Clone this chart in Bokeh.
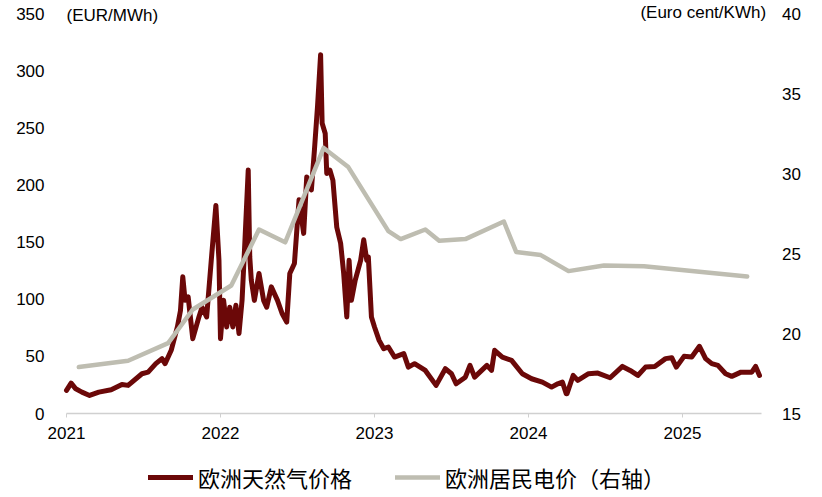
from bokeh.plotting import figure
from bokeh.models import (Range1d, LinearAxis, FixedTicker, Legend, LegendItem,
                          Label, CustomJSTickFormatter)
from bokeh.embed import file_html
from bokeh.resources import INLINE

# ---------------- data ----------------
# European natural gas price (EUR/MWh), decimal-year time axis
gas_t = [2021.00, 2021.03, 2021.06, 2021.10, 2021.15, 2021.21, 2021.29, 2021.36, 2021.40,
         2021.49, 2021.53, 2021.58, 2021.62, 2021.64, 2021.68, 2021.72, 2021.74, 2021.755,
         2021.77, 2021.79, 2021.82, 2021.86, 2021.88, 2021.91, 2021.94, 2021.97, 2021.99,
         2022.00, 2022.02, 2022.04, 2022.06, 2022.08, 2022.10, 2022.12, 2022.14, 2022.16,
         2022.18, 2022.19, 2022.20, 2022.22, 2022.25, 2022.28, 2022.30, 2022.33, 2022.37,
         2022.40, 2022.43, 2022.45, 2022.48, 2022.51, 2022.54, 2022.56, 2022.59, 2022.61,
         2022.63, 2022.65, 2022.66, 2022.68, 2022.69, 2022.71, 2022.73, 2022.755, 2022.78,
         2022.80, 2022.82, 2022.835, 2022.85, 2022.875, 2022.91, 2022.93, 2022.95, 2022.96,
         2022.98, 2023.00, 2023.03, 2023.06, 2023.09, 2023.13, 2023.19, 2023.22, 2023.26,
         2023.33, 2023.40, 2023.46, 2023.50, 2023.53, 2023.59, 2023.62, 2023.65, 2023.73,
         2023.76, 2023.78, 2023.83, 2023.89, 2023.96, 2024.02, 2024.09, 2024.15, 2024.19,
         2024.22, 2024.245, 2024.25, 2024.29, 2024.32, 2024.39, 2024.45, 2024.53, 2024.61,
         2024.66, 2024.71, 2024.76, 2024.82, 2024.89, 2024.93, 2024.96, 2025.01, 2025.06,
         2025.11, 2025.15, 2025.19, 2025.23, 2025.28, 2025.32, 2025.38, 2025.45, 2025.475,
         2025.50]
gas_v = [20.2, 26.6, 21.6, 18.7, 15.8, 18.7, 20.8, 25.4, 24.6,
         34.8, 36.2, 43.6, 48.0, 43.6, 55.3, 75.7, 90.0, 119.6,
         99.0, 102.0, 65.5, 84.5, 93.0, 84.5, 134.0, 182.0, 134.0,
         65.5, 99.0, 75.7, 93.0, 75.7, 94.7, 70.0, 99.0, 154.7,
         213.0, 137.0, 116.7, 99.0, 122.5, 99.0, 93.0, 110.8, 99.0,
         87.5, 80.0, 122.5, 131.3, 187.0, 157.6, 207.0, 195.6, 230.7,
         268.7, 314.0, 254.0, 245.0, 210.0, 213.0, 204.0, 163.0, 149.0,
         122.5, 84.5, 134.0, 99.0, 116.7, 134.0, 152.0, 134.0, 137.0,
         84.5, 75.7, 64.0, 56.7, 58.2, 49.4, 52.4, 40.6, 43.6,
         37.7, 24.6, 39.2, 34.8, 26.0, 31.8, 42.1, 31.8, 42.1,
         37.7, 55.3, 49.4, 46.5, 34.8, 30.4, 27.5, 23.1, 26.0,
         27.5, 17.3, 17.3, 33.3, 29.0, 34.8, 35.4, 31.3, 41.2,
         37.7, 33.3, 40.6, 41.2, 48.0, 48.8, 40.6, 50.0, 49.4,
         58.8, 48.0, 43.6, 42.1, 34.8, 32.5, 36.2, 36.2, 41.2,
         33.3]

# European household electricity price (Euro cent/KWh), right axis
elec_t = [2021.08, 2021.40, 2021.66, 2021.82, 2022.07, 2022.25, 2022.42, 2022.67, 2022.83,
          2023.09, 2023.17, 2023.33, 2023.42, 2023.59, 2023.84, 2023.92, 2024.08, 2024.17,
          2024.26, 2024.49, 2024.75, 2025.42]
elec_v = [17.9, 18.3, 19.4, 21.5, 23.0, 26.5, 25.7, 31.6, 30.4,
          26.4, 25.9, 26.5, 25.8, 25.9, 27.0, 25.1, 24.9, 24.4,
          23.9, 24.25, 24.2, 23.56]

year_ticks = [2021, 2022, 2023, 2024, 2025]
left_ticks = [0, 50, 100, 150, 200, 250, 300, 350]
right_ticks = [15, 20, 25, 30, 35, 40]

gas_name = "欧洲天然气价格"
elec_name = "欧洲居民电价（右轴）"
left_unit = "(EUR/MWh)"
right_unit = "(Euro cent/KWh)"

# ---------------- styling / layout ----------------
GAS_COLOR = "#6B0808"
ELEC_COLOR = "#BEBDB1"
FONT = "Liberation Sans"
CJK = "Noto Sans CJK SC"
TXT = "#000000"

X0, X1 = 2021.0, 2025.51          # span of the plotted time axis
PX_YEAR = 154                      # pixels per year
LEFT_PAD_PX, RIGHT_PAD_PX = 58, 46 # room inside the frame for the y-axis labels
FRAME_W = 798
x_start = X0 - LEFT_PAD_PX / PX_YEAR
x_end = x_start + FRAME_W / PX_YEAR

# 400 px for 0..350 (left) and 15..40 (right); extra px above for the unit texts
# and below for the year labels and the legend (axes pinned inside the frame)
HEAD_PX = 12
FOOT_PX = 83
left_top = 350 + HEAD_PX * 350 / 400
left_bot = 0 - FOOT_PX * 350 / 400
right_top = 40 + HEAD_PX * 25 / 400
right_bot = 15 - FOOT_PX * 25 / 400

p = figure(output_backend="svg", toolbar_location=None,
           x_range=Range1d(x_start, x_end), y_range=Range1d(left_bot, left_top),
           frame_width=FRAME_W, frame_height=400 + HEAD_PX + FOOT_PX,
           min_border_left=8, min_border_right=0, min_border_top=1, min_border_bottom=0)
p.outline_line_color = None
p.background_fill_color = "white"
p.border_fill_color = "white"
p.grid.visible = False

p.extra_y_ranges = {"right": Range1d(right_bot, right_top)}

# x axis, pinned at value 0
xa = p.xaxis[0]
xa.fixed_location = 0
xa.bounds = (X0, X1)
xa.ticker = FixedTicker(ticks=year_ticks)
xa.formatter = CustomJSTickFormatter(code="return String(Math.round(tick));")
xa.axis_line_color = "#D0D0D0"
xa.axis_line_width = 1.5
xa.major_tick_line_color = "#D0D0D0"
xa.major_tick_in = 0
xa.major_tick_out = 4
xa.minor_tick_line_color = None
xa.major_label_text_font = FONT
xa.major_label_text_font_size = "17px"
xa.major_label_text_color = TXT
xa.major_label_standoff = 9

# left axis, pinned at the start of the time axis
ya = p.yaxis[0]
ya.fixed_location = X0
ya.ticker = FixedTicker(ticks=left_ticks)
ya.axis_line_color = None
ya.major_tick_line_color = None
ya.minor_tick_line_color = None
ya.major_label_text_font = FONT
ya.major_label_text_font_size = "17px"
ya.major_label_text_color = TXT
ya.major_label_standoff = 16

# right axis, pinned at the end of the time axis
ra = LinearAxis(y_range_name="right", ticker=FixedTicker(ticks=right_ticks),
                fixed_location=X1)
ra.axis_line_color = None
ra.major_tick_line_color = None
ra.minor_tick_line_color = None
ra.major_label_text_font = FONT
ra.major_label_text_font_size = "17px"
ra.major_label_text_color = TXT
ra.major_label_standoff = 15
p.add_layout(ra, "right")

r_gas = p.line(gas_t, gas_v, line_color=GAS_COLOR, line_width=5,
               line_join="round", line_cap="round")
r_elec = p.line(elec_t, elec_v, y_range_name="right", line_color=ELEC_COLOR,
                line_width=4.5, line_join="round", line_cap="round")

p.add_layout(Label(x=X0, y=348, text=left_unit, text_align="left",
                   text_baseline="middle", text_font=FONT, text_font_size="17px",
                   text_color=TXT))
p.add_layout(Label(x=X1 + 5 / PX_YEAR, y=350.5, text=right_unit, text_align="right",
                   text_baseline="middle", text_font=FONT, text_font_size="17px",
                   text_color=TXT))

legend = Legend(items=[LegendItem(label=gas_name, renderers=[r_gas]),
                       LegendItem(label=elec_name, renderers=[r_elec])],
                orientation="horizontal", location=(140, 3),
                label_text_font=CJK, label_text_font_size="22px",
                label_text_color=TXT, glyph_width=45, glyph_height=20,
                label_standoff=5, spacing=43, padding=0, margin=0,
                border_line_color=None, background_fill_alpha=0)
p.add_layout(legend, "center")

open("out.html", "w").write(file_html(p, INLINE))
